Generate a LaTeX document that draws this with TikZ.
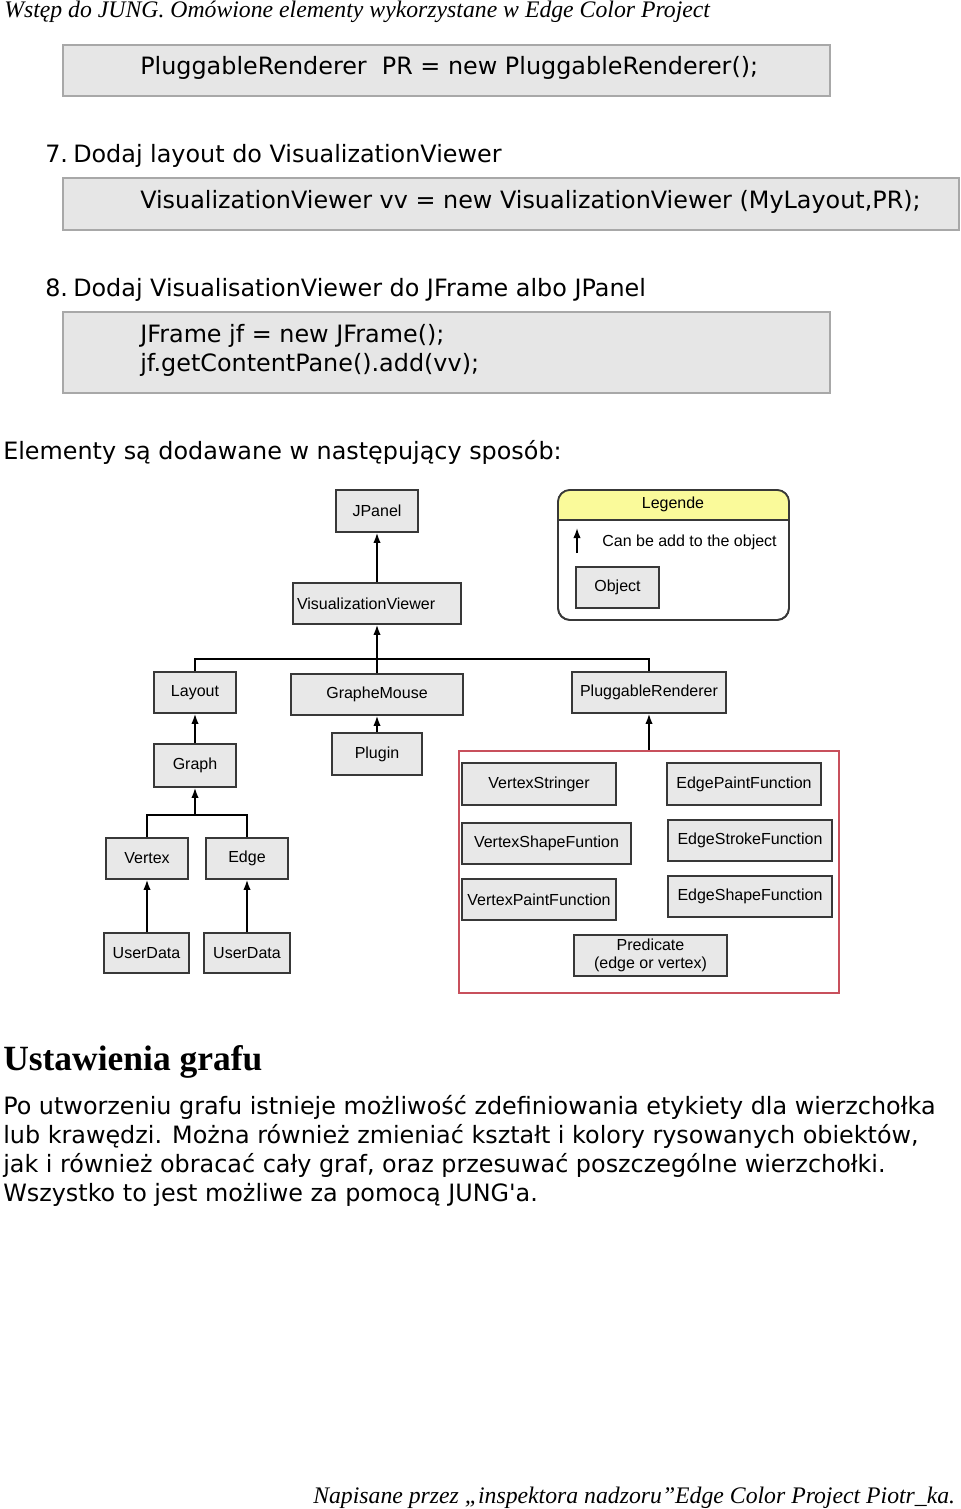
\documentclass[tikz,border=0pt]{standalone}
\usepackage{fontspec}
\setmainfont{Liberation Serif}
\newfontfamily\dejavu{DejaVu Sans}
\newfontfamily\arialf{Liberation Sans}
\usetikzlibrary{arrows.meta}
\definecolor{codefill}{HTML}{E6E6E6}
\definecolor{codeline}{HTML}{A8A8A8}
\definecolor{boxfill}{HTML}{E8E8E8}
\definecolor{boxline}{HTML}{383838}
\definecolor{redline}{HTML}{C8505C}
\definecolor{legyellow}{HTML}{FAFA9A}
\begin{document}
\begin{tikzpicture}[x=0.75pt,y=-0.75pt,
  sz/.style 2 args={minimum width=#1*0.75pt,minimum height=#2*0.75pt},
  codebox/.style={draw=codeline,fill=codefill,line width=0.9pt,inner sep=0pt},
  txt/.style={anchor=base west,inner sep=0pt,font=\dejavu\fontsize{17.9pt}{21pt}\selectfont},
  dfont/.style={font=\arialf\fontsize{12pt}{13.8pt}\selectfont},
  dbox/.style={draw=boxline,fill=boxfill,line width=1.3pt,inner sep=0pt,dfont,align=center},
  arr/.style={line width=1.1pt,-{Latex[length=7.5pt,width=5.5pt]}},
  bus/.style={line width=1.1pt}]
\useasboundingbox (0,0) rectangle (960,1509);
% header
\node[anchor=base west,inner sep=0pt,font=\itshape\fontsize{17.8pt}{20pt}\selectfont] (hdr) at (4,18)
  {Wstęp do JUNG. Omówione elementy wykorzystane w Edge Color Project};
% code boxes
\node[codebox,sz={767}{51}] (cb1) at (446.5,70.5) {};
\node[txt] (c1) at (140,75) {PluggableRenderer\ \ PR = new PluggableRenderer();};
\node[txt] (s7) at (45,162) {\makebox[28\dimexpr0.75pt][l]{7.}Dodaj layout do VisualizationViewer};
\node[codebox,sz={896}{52}] (cb2) at (511,204) {};
\node[txt] (c2) at (140,209) {VisualizationViewer vv = new VisualizationViewer (MyLayout,PR);};
\node[txt] (s8) at (45,296) {\makebox[28\dimexpr0.75pt][l]{8.}Dodaj VisualisationViewer do JFrame albo JPanel};
\node[codebox,sz={767}{81}] (cb3) at (446.5,352.5) {};
\node[txt] (c3a) at (140,342) {JFrame jf = new JFrame();};
\node[txt] (c3b) at (140,371) {jf.getContentPane().add(vv);};
\node[txt] (el) at (3,459) {Elementy są dodawane w następujący sposób:};
% diagram
\node[dbox,sz={82}{42}] (jpanel) at (377,511) {JPanel};
\node[dbox,sz={168}{41},text width=160*0.75pt,align=left] (vv) at (377,603.5) {VisualizationViewer};
\node[dbox,sz={82}{41}] (layout) at (195,692.5) {Layout};
\node[dbox,sz={172}{41}] (gm) at (377,694.5) {GrapheMouse};
\node[dbox,sz={154}{41}] (pr) at (649,692.5) {PluggableRenderer};
\node[dbox,sz={82}{43}] (graph) at (195,765.5) {Graph};
\node[dbox,sz={90}{42}] (plugin) at (377,754) {Plugin};
\node[dbox,sz={82}{41}] (vertex) at (147,858.5) {Vertex};
\node[dbox,sz={82}{41}] (edge) at (247,858.5) {Edge};
\node[dbox,sz={85}{40}] (ud1) at (146.5,953) {UserData};
\node[dbox,sz={86}{40}] (ud2) at (247,953) {UserData};
\node[draw=redline,line width=1.2pt,inner sep=0pt,sz={380}{242}] (red) at (649,872) {};
\node[dbox,sz={154}{42}] (vs) at (539,784) {VertexStringer};
\node[dbox,sz={154}{42}] (epf) at (744,784) {EdgePaintFunction};
\node[dbox,sz={169}{41}] (vsf) at (546.5,843.5) {VertexShapeFuntion};
\node[dbox,sz={164}{41}] (estf) at (750,840.5) {EdgeStrokeFunction};
\node[dbox,sz={154}{41}] (vpf) at (539,899.5) {VertexPaintFunction};
\node[dbox,sz={164}{41}] (eshf) at (750,896.5) {EdgeShapeFunction};
\node[dbox,sz={153}{41}] (pred) at (650.5,955.5) {Predicate\\(edge or vertex)};
% connectors
\coordinate (b1) at (377,659);
\coordinate (b2) at (195,815);
\draw[arr] (vv.north) -- (jpanel.south);
\draw[arr] (b1) -- (vv.south);
\draw[bus] (layout.north) -- (layout.north |- b1) -- (pr.north |- b1) -- (pr.north);
\draw[bus] (gm.north) -- (b1);
\draw[arr] (graph.north) -- (layout.south);
\draw[arr] (plugin.north) -- (gm.south);
\draw[arr] (b2) -- (graph.south);
\draw[bus] (vertex.north) -- (vertex.north |- b2) -- (edge.north |- b2) -- (edge.north);
\draw[arr] (ud1.north -| vertex.south) -- (vertex.south);
\draw[arr] (ud2.north) -- (edge.south);
\draw[arr] (red.north) -- (pr.south);
% legend
\node[draw=boxline,line width=1.3pt,rounded corners=9pt,inner sep=0pt,sz={231}{130}] (legend) at (673.5,555) {};
\begin{scope}
\clip[rounded corners=9pt] (558,490) rectangle (789,620);
\fill[legyellow] (558,490) rectangle (789,520);
\end{scope}
\draw[boxline,line width=1.3pt,rounded corners=9pt] (558,490) rectangle (789,620);
\draw[boxline,line width=1.0pt] (558,520) -- (789,520);
\node[inner sep=0pt,dfont] (legt) at (673,504) {Legende};
\coordinate (la1) at (577,553);
\coordinate (la2) at (577,528);
\draw[arr] (la1) -- (la2);
\node[inner sep=0pt,dfont] (legc) at (689.5,542) {Can be add to the object};
\node[dbox,sz={83}{41}] (obj) at (617.5,587.5) {Object};
% bottom text
\node[anchor=base west,inner sep=0pt,font=\bfseries\fontsize{26.6pt}{30pt}\selectfont] (h2) at (3,1070) {Ustawienia grafu};
\node[txt] (p1) at (3,1114) {Po utworzeniu grafu istnieje możliwość zdefiniowania etykiety dla wierzchołka};
\node[txt] (p2) at (3,1143) {lub krawędzi. Można również zmieniać kształt i kolory rysowanych obiektów,};
\node[txt] (p3) at (3,1172) {jak i również obracać cały graf, oraz przesuwać poszczególne wierzchołki.};
\node[txt] (p4) at (3,1201) {Wszystko to jest możliwe za pomocą JUNG'a.};
\node[anchor=base west,inner sep=0pt,font=\itshape\fontsize{17.8pt}{20pt}\selectfont] (ftr) at (313,1503)
  {Napisane przez „inspektora nadzoru”Edge Color Project Piotr\_ka.};
\end{tikzpicture}
\end{document}
